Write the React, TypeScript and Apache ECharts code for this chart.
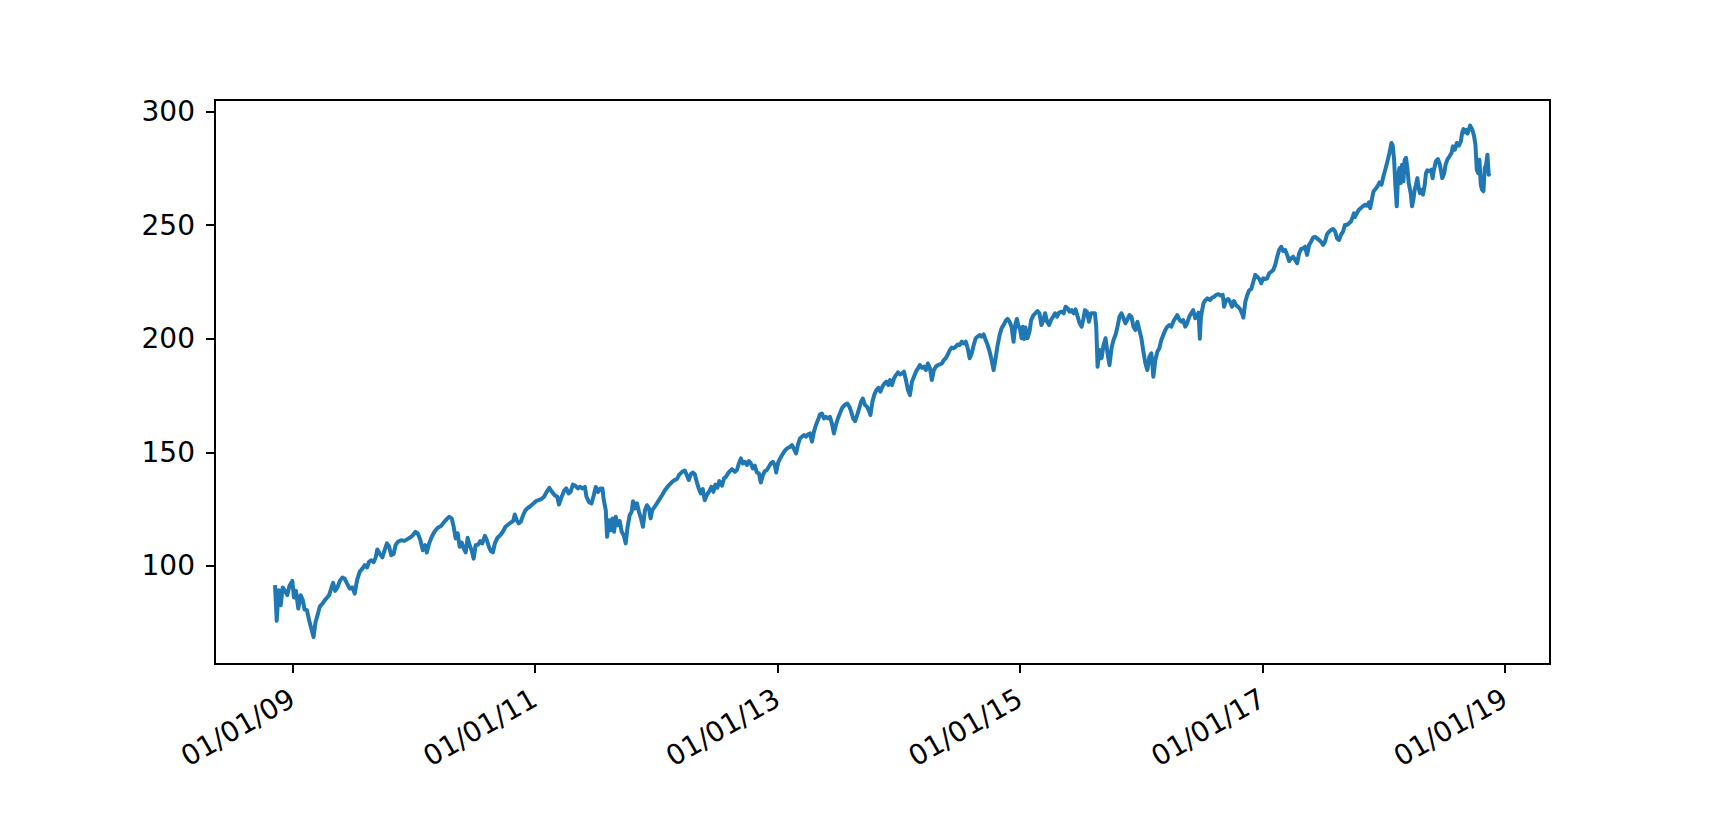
import React, { useEffect, useRef } from "react";
import * as echarts from "echarts";

// Days since 2009-01-01 and the closing value at each.
const DAYS: number[] = [
  -52, -47, -41, -35, -29, -22, -15, -9, 0, 5, 11, 18, 25, 31, 37, 44, 51, 58, 64, 70, 76, 83, 91, 98, 105, 111, 118, 123, 129, 136, 143, 151, 158, 165, 173, 181, 188, 195, 203, 211, 218, 225, 231, 238, 245, 251, 256, 263, 271, 278, 285, 291, 298, 305, 311, 318, 328, 338, 348, 355, 363, 371, 378, 385, 393,
  400, 405, 412, 420, 428, 438, 448, 458, 465, 472, 480, 486, 492, 498, 504, 510, 516, 522, 528, 534, 540, 546, 552, 560, 566, 572, 580, 586, 592, 598, 604, 610, 618, 626, 634, 642, 650, 658, 665, 670, 676, 682, 688, 695, 702, 710, 718, 726, 734, 742, 750, 758, 766, 774, 782, 790, 798, 803, 810, 818, 825, 832, 838, 845, 852, 860,
  866, 874, 881, 886, 894, 901, 908, 914, 921, 928, 934, 938, 944, 948, 954, 959, 964, 969, 974, 980, 986, 992, 998, 1004, 1009, 1016, 1022, 1026, 1032, 1038, 1044, 1050, 1056, 1062, 1068, 1074, 1079, 1084, 1091, 1098, 1106, 1114, 1122, 1130, 1136, 1144, 1151, 1158, 1166, 1174, 1182, 1188, 1194, 1200, 1206, 1212, 1218, 1224, 1230, 1236, 1242, 1248, 1256, 1262, 1268, 1274, 1280, 1286, 1294, 1300, 1306, 1312, 1318, 1324,
  1333, 1339, 1345, 1351, 1357, 1363, 1369, 1375, 1381, 1387, 1393, 1399, 1405, 1411, 1417, 1423, 1429, 1435, 1441, 1447, 1453, 1457, 1463, 1469, 1475, 1481, 1487, 1493, 1499, 1505, 1511, 1517, 1523, 1529, 1535, 1541, 1547, 1553, 1559, 1565, 1571, 1577, 1583, 1589, 1595, 1601, 1607, 1613, 1619, 1625, 1631, 1637, 1643, 1649, 1655, 1663, 1671, 1678, 1683, 1689, 1695, 1701, 1707, 1713, 1718, 1725, 1731, 1737, 1741, 1747, 1753, 1759, 1765, 1771, 1777, 1783, 1789, 1795,
  1800, 1806, 1812, 1818, 1824, 1830, 1836, 1842, 1848, 1854, 1860, 1866, 1872, 1878, 1884, 1890, 1896, 1902, 1908, 1914, 1920, 1926, 1932, 1938, 1944, 1950, 1956, 1962, 1968, 1974, 1980, 1986, 1992, 1998, 2004, 2010, 2016, 2022, 2028, 2034, 2040, 2046, 2052, 2058, 2064, 2070, 2076, 2082, 2088, 2094, 2100, 2106, 2112, 2118, 2124, 2130, 2136, 2142, 2148, 2154, 2160, 2166, 2172, 2178, 2182, 2186, 2192, 2196, 2200, 2204, 2208, 2214, 2220, 2225, 2232, 2238, 2244, 2250, 2256, 2262,
  2267, 2273, 2279, 2285, 2291, 2297, 2303, 2309, 2317, 2323, 2329, 2335, 2341, 2347, 2353, 2359, 2365, 2371, 2377, 2382, 2387, 2393, 2399, 2405, 2411, 2417, 2421, 2425, 2431, 2437, 2443, 2449, 2455, 2461, 2467, 2473, 2479, 2485, 2491, 2497, 2503, 2509, 2515, 2521, 2527, 2533, 2539, 2545, 2551, 2557, 2563, 2569, 2575, 2581, 2587, 2593, 2599, 2605, 2611, 2617, 2623, 2629, 2635, 2641, 2647, 2653, 2659, 2665, 2671, 2677, 2683, 2689, 2695, 2701, 2707, 2713, 2719, 2725, 2729, 2733, 2736,
  2739, 2744, 2750, 2756, 2764, 2770, 2776, 2782, 2789, 2796, 2802, 2806, 2812, 2818, 2824, 2830, 2836, 2842, 2848, 2854, 2860, 2864, 2870, 2876, 2882, 2888, 2894, 2900, 2906, 2912, 2918, 2924, 2930, 2936, 2942, 2948, 2954, 2960, 2966, 2972, 2978, 2984, 2990, 2996, 3002, 3008, 3014, 3020, 3026, 3032, 3038, 3044, 3050, 3056, 3062, 3068, 3074, 3080, 3086, 3092, 3098, 3104, 3110, 3116, 3122, 3128, 3134, 3140, 3146, 3152, 3158, 3164, 3170, 3176, 3182, 3188, 3192, 3197,
  3200, 3206, 3212, 3218, 3224, 3230, 3236, 3242, 3246, 3252, 3256, 3262, 3268, 3274, 3280, 3286, 3292, 3298, 3304, 3310, 3314, 3318, 3322, 3326, 3330, 3334, 3338, 3342, 3346, 3350, 3354, 3358, 3362, 3368, 3372, 3376, 3380, 3384, 3388, 3392, 3396, 3400, 3405, 3410, 3414, 3418, 3424, 3430, 3434, 3438, 3444, 3450, 3456, 3463, 3469, 3473, 3479, 3485, 3491, 3495, 3501, 3507, 3513, 3519, 3523, 3527, 3531, 3535, 3539, 3543, 3547, 3551, 3555, 3559, 3563, 3567, 3571, 3575, 3579, 3583, 3587, 3591, 3595, 3599, 3603, 3606,
];

const PRICES: number[] = [
  91.5, 75.8, 89.3, 82.7, 90.5, 89.0, 87.1, 91.0, 93.4, 86.1, 89.0, 81.2, 87.1, 85.2, 80.8, 80.5, 75.8, 72.0, 68.7, 75.3, 78.3, 82.2, 83.4, 84.9, 86.1, 87.1, 90.5, 92.5, 89.0, 90.5, 93.4, 94.9, 94.3, 92.2, 90.0, 90.5, 87.8, 93.7, 97.4, 98.8, 100.3, 99.3, 101.8, 102.5, 101.6, 103.7, 107.2, 105.4, 103.7, 106.9, 109.9, 108.7, 104.7, 105.2, 109.1, 110.6, 111.3, 111.0, 111.9, 112.5, 113.5, 115.0, 114.3, 111.6, 106.9,
  109.1, 105.9, 109.9, 112.8, 115.0, 116.8, 117.6, 119.4, 120.6, 121.6, 120.9, 117.2, 112.1, 114.3, 108.4, 110.3, 107.7, 105.9, 112.4, 109.1, 106.9, 103.2, 109.1, 109.4, 110.9, 109.9, 113.2, 111.3, 108.4, 106.5, 105.9, 109.9, 112.4, 113.5, 115.0, 117.2, 118.2, 119.1, 119.7, 122.6, 120.1, 118.7, 119.4, 122.3, 124.5, 125.6, 126.4, 127.5, 128.5, 129.0, 129.4, 130.4, 132.6, 134.4, 132.6, 131.1, 130.4, 127.0, 130.0, 132.9, 134.1, 131.9, 132.6, 135.8, 135.3, 134.1,
  134.8, 134.1, 134.8, 130.4, 127.9, 127.5, 131.2, 134.8, 132.6, 134.1, 134.1, 128.9, 124.5, 112.8, 120.1, 115.7, 120.9, 115.0, 121.6, 117.9, 119.7, 115.0, 113.5, 109.9, 116.5, 122.3, 123.8, 128.5, 125.3, 127.5, 123.8, 120.9, 117.2, 124.5, 126.7, 125.3, 120.9, 124.5, 126.0, 127.5, 129.4, 131.2, 133.3, 134.8, 135.8, 137.0, 137.8, 138.2, 140.3, 141.4, 142.0, 139.9, 137.8, 140.3, 141.1, 140.3, 137.0, 134.1, 131.9, 133.8, 128.9, 131.2, 132.9, 134.8, 132.6, 135.8, 134.4, 137.3, 135.3, 138.5, 139.2, 140.7, 141.7, 142.6,
  141.4, 142.2, 145.1, 147.3, 145.1, 145.8, 144.4, 146.1, 145.1, 142.9, 144.1, 141.1, 140.7, 136.7, 139.9, 141.7, 142.2, 143.6, 145.1, 145.8, 144.4, 141.1, 145.5, 147.3, 148.8, 150.2, 151.3, 152.0, 152.4, 153.2, 151.4, 149.5, 153.5, 156.1, 156.9, 157.6, 156.9, 157.9, 158.3, 154.7, 159.1, 162.0, 164.2, 166.7, 167.1, 164.9, 165.6, 164.9, 165.6, 162.7, 158.3, 162.0, 164.9, 167.1, 169.3, 170.8, 171.5, 170.0, 167.9, 164.9, 163.7, 166.4, 169.3, 172.3, 173.7, 170.8, 170.0, 168.1, 166.4, 172.3, 175.5, 177.4, 178.4, 176.7, 178.9, 180.3, 181.1, 179.6,
  181.8, 179.6, 182.5, 184.0, 185.2, 184.3, 184.7, 185.5, 181.8, 177.4, 175.2, 181.1, 183.3, 185.5, 186.9, 188.4, 187.2, 187.7, 186.2, 189.1, 187.2, 181.8, 186.2, 187.7, 188.4, 188.7, 189.1, 190.6, 191.4, 193.1, 195.0, 196.1, 195.8, 196.5, 197.5, 197.2, 198.7, 197.9, 198.7, 195.8, 191.4, 193.6, 197.2, 200.2, 200.9, 201.6, 200.9, 201.9, 199.4, 197.2, 194.3, 190.6, 186.2, 191.4, 197.2, 201.6, 204.6, 206.0, 207.8, 208.7, 207.5, 205.3, 198.7, 206.8, 208.7, 206.0, 203.8, 200.2, 205.3, 199.9, 204.9, 200.2, 203.1, 208.2, 210.4, 211.2, 212.2, 211.2, 206.0, 208.2,
  211.2, 207.5, 206.0, 208.2, 209.7, 211.2, 209.7, 211.5, 211.9, 211.2, 214.1, 213.4, 211.9, 212.6, 211.2, 212.9, 209.7, 206.8, 205.3, 208.5, 212.6, 211.9, 207.5, 211.2, 211.2, 211.2, 205.3, 187.7, 195.0, 191.4, 197.2, 200.2, 193.6, 188.4, 195.8, 199.4, 201.6, 205.3, 209.7, 211.2, 209.0, 206.8, 208.5, 210.4, 209.7, 205.3, 203.8, 207.5, 203.8, 200.2, 194.3, 189.2, 186.2, 192.1, 193.6, 183.3, 190.6, 194.3, 195.8, 199.4, 201.6, 203.8, 205.3, 206.0, 205.3, 207.5, 209.0, 210.4, 208.5, 207.5, 208.2, 205.3, 206.8, 209.7, 211.2, 212.6, 209.0, 210.4, 211.5, 200.0, 209.0,
  211.9, 215.6, 217.0, 217.8, 217.0, 218.1, 218.5, 219.3, 219.6, 219.0, 219.3, 214.1, 217.0, 217.5, 216.3, 214.1, 216.6, 214.8, 214.1, 213.1, 211.2, 209.3, 216.3, 219.3, 221.4, 221.9, 225.1, 228.1, 227.3, 226.3, 224.4, 226.6, 226.3, 226.6, 228.8, 229.5, 230.3, 232.5, 236.1, 239.1, 240.5, 238.6, 239.1, 236.9, 234.2, 235.4, 236.1, 234.7, 233.2, 237.6, 239.5, 239.8, 240.5, 236.9, 241.3, 242.7, 244.5, 244.9, 244.2, 243.5, 242.7, 241.3, 242.7, 246.0, 247.1, 247.9, 248.3, 247.4, 244.2, 243.5, 245.7, 247.1, 250.1, 250.1, 250.8, 251.6, 253.0, 255.2,
  253.6, 255.3, 256.8, 257.5, 258.3, 259.0, 258.6, 260.0, 257.5, 262.0, 264.9, 265.9, 267.1, 268.8, 267.8, 271.5, 274.7, 278.1, 281.8, 286.2, 285.0, 278.8, 267.1, 258.3, 271.5, 275.1, 268.5, 276.6, 269.3, 278.8, 279.6, 275.1, 268.5, 264.1, 258.3, 261.2, 265.6, 267.8, 270.7, 266.3, 264.1, 265.6, 263.4, 267.4, 272.9, 274.1, 273.7, 274.4, 270.7, 274.4, 278.1, 279.1, 276.6, 270.7, 272.9, 276.6, 279.1, 280.3, 281.8, 284.7, 283.2, 286.2, 285.0, 286.9, 290.6, 292.3, 290.9, 292.0, 290.3, 292.0, 293.8, 292.8, 291.3, 289.1, 285.4, 274.4, 272.9, 278.8, 267.8, 265.6, 264.9, 275.1, 276.6, 281.0, 272.2, 272.9,
];

const X_TICK_DATES: string[] = ["2009-01-01", "2011-01-01", "2013-01-01", "2015-01-01", "2017-01-01", "2019-01-01"];
const Y_TICKS: number[] = [100, 150, 200, 250, 300];

const BASE = Date.UTC(2009, 0, 1);
const MS_DAY = 86400000;

function fmt(v: number): string {
  const d = new Date(v);
  const mm = String(d.getUTCMonth() + 1).padStart(2, "0");
  const dd = String(d.getUTCDate()).padStart(2, "0");
  const yy = String(d.getUTCFullYear() % 100).padStart(2, "0");
  return `${mm}/${dd}/${yy}`;
}

export default function App() {
  const ref = useRef<HTMLDivElement>(null);
  useEffect(() => {
    document.body.style.margin = "0";
    const chart = echarts.init(ref.current!, null, { renderer: "svg" });
    const data = DAYS.map((d, i) => [BASE + d * MS_DAY, PRICES[i]]);
    const xTicks = X_TICK_DATES.map((s) => Date.parse(s + "T00:00:00Z"));
    const font = "DejaVu Sans";
    chart.setOption({
      animation: false,
      backgroundColor: "#ffffff",
      grid: {
        left: 215,
        right: 172,
        top: 100,
        bottom: 166,
        show: true,
        borderColor: "#000",
        borderWidth: 2,
        backgroundColor: "transparent",
      },
      xAxis: {
        type: "value",
        min: BASE - 232.8 * MS_DAY,
        max: Date.UTC(2019, 0, 1) + 135.5 * MS_DAY,
        axisLine: { show: true, lineStyle: { color: "#000", width: 2 } },
        axisTick: { show: true, inside: false, length: 9, lineStyle: { color: "#000", width: 2 }, customValues: xTicks },
        axisLabel: {
          customValues: xTicks,
          formatter: (v: number) => fmt(v),
          rotate: 30,
          margin: 32,
          color: "#000",
          fontFamily: font,
          fontSize: 28,
        },
        splitLine: { show: false },
      },
      yAxis: {
        type: "value",
        min: 56.8,
        max: 305.1,
        axisLine: { show: true, lineStyle: { color: "#000", width: 2 } },
        axisTick: { show: true, inside: false, length: 9, lineStyle: { color: "#000", width: 2 }, customValues: Y_TICKS },
        axisLabel: {
          customValues: Y_TICKS,
          margin: 20,
          color: "#000",
          fontFamily: font,
          fontSize: 28,
        },
        splitLine: { show: false },
      },
      series: [
        {
          type: "line",
          data,
          showSymbol: false,
          symbol: "none",
          lineStyle: { color: "#1f77b4", width: 4, join: "round", cap: "butt" },
          itemStyle: { color: "#1f77b4" },
        },
      ],
    });
    return () => chart.dispose();
  }, []);
  return <div ref={ref} style={{ width: 1722, height: 830 }} />;
}
